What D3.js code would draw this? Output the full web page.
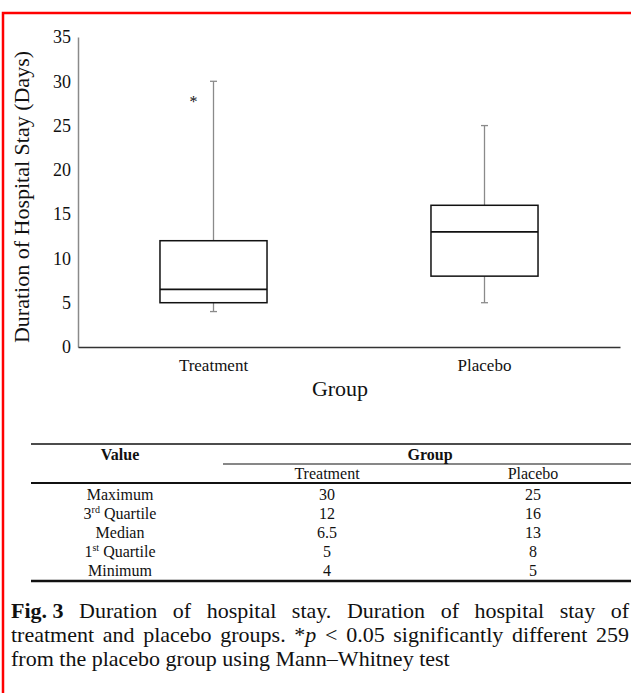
<!DOCTYPE html>
<html>
<head>
<meta charset="utf-8">
<script src="https://cdn.jsdelivr.net/npm/d3@7"></script>
<style>
  html, body { margin: 0; padding: 0; background: #fff; }
  svg { display: block; }
  text { font-family: "Liberation Serif", "Times New Roman", serif; fill: #111; }
</style>
</head>
<body>
<svg id="chart" width="631" height="693"></svg>
<script>
// ---------- data ----------
const groups = ["Treatment", "Placebo"];
const maxima = [30, 25];
const q3s = [12, 16];
const medians = [6.5, 13];
const q1s = [5, 8];
const minima = [4, 5];
const outlierGroups = ["Treatment"];
const outlierValues = [28];
const yTicks = [0, 5, 10, 15, 20, 25, 30, 35];
const rowLabels = [["Maximum"], ["3", "rd", " Quartile"], ["Median"], ["1", "st", " Quartile"], ["Minimum"]];
const yTitle = "Duration of Hospital Stay (Days)";
const xTitle = "Group";
const captionLine1 = [[["Fig. 3", "b"]], [["Duration", ""]], [["of", ""]], [["hospital", ""]], [["stay.", ""]], [["Duration", ""]], [["of", ""]], [["hospital", ""]], [["stay", ""]], [["of", ""]]];
const captionLine2 = [[["treatment", ""]], [["and", ""]], [["placebo", ""]], [["groups.", ""]], [["*", ""], ["p", "i"]], [["<", ""]], [["0.05", ""]], [["significantly", ""]], [["different", ""]], [["259", ""]]];
const captionLine3 = "from the placebo group using Mann–Whitney test";

// ---------- layout ----------
const SERIF = '"Liberation Serif", "Times New Roman", serif';
const svg = d3.select("#chart");
const W = 631, H = 693;

// red frame
svg.append("path")
  .attr("d", `M3,${H} L3,13 L${W},13`)
  .attr("fill", "none").attr("stroke", "#ff0000").attr("stroke-width", 2.5);

const y = d3.scaleLinear().domain([0, 35]).range([347, 37]);
const x = d3.scaleBand().domain(groups).range([78, 620]).paddingInner(0).paddingOuter(0);
const boxW = x.bandwidth() * 0.395;
const capW = 7;

// y axis
const yAxis = svg.append("g").attr("transform", "translate(78,0)")
  .call(d3.axisLeft(y).tickValues(yTicks).tickSize(0).tickPadding(7).tickFormat(d3.format("d")));
yAxis.attr("font-family", SERIF).attr("font-size", 18);
yAxis.select(".domain").attr("stroke", "#8a8a8a").attr("stroke-width", 1.5);
yAxis.selectAll("text").style("font-family", SERIF).style("font-size", "18px").attr("fill", "#222");

// x axis
const xAxis = svg.append("g").attr("transform", "translate(0,347)")
  .call(d3.axisBottom(x).tickSize(0).tickPadding(12));
xAxis.attr("font-family", SERIF).attr("font-size", 17);
xAxis.select(".domain").attr("stroke", "#333").attr("stroke-width", 1.3);
xAxis.selectAll("text").style("font-family", SERIF).style("font-size", "17px").attr("fill", "#222");

// axis titles
svg.append("text").attr("x", 340).attr("y", 396).attr("text-anchor", "middle")
  .style("font-size", "22px").text(xTitle);
svg.append("text").attr("transform", `translate(29,197) rotate(-90)`).attr("text-anchor", "middle")
  .style("font-size", "22px").text(yTitle);

// boxes
const boxes = groups.map((g, i) => ({ g, max: maxima[i], q3: q3s[i], med: medians[i], q1: q1s[i], min: minima[i] }));
const bg = svg.append("g").selectAll("g").data(boxes).join("g");
const cx = d => x(d.g) + x.bandwidth() / 2;
const wc = "#8a8a8a";
bg.append("line").attr("x1", cx).attr("x2", cx).attr("y1", d => y(d.max)).attr("y2", d => y(d.q3))
  .attr("stroke", wc).attr("stroke-width", 1.3);
bg.append("line").attr("x1", cx).attr("x2", cx).attr("y1", d => y(d.q1)).attr("y2", d => y(d.min))
  .attr("stroke", wc).attr("stroke-width", 1.3);
bg.append("line").attr("x1", d => cx(d) - capW / 2).attr("x2", d => cx(d) + capW / 2)
  .attr("y1", d => y(d.max)).attr("y2", d => y(d.max)).attr("stroke", wc).attr("stroke-width", 1.3);
bg.append("line").attr("x1", d => cx(d) - capW / 2).attr("x2", d => cx(d) + capW / 2)
  .attr("y1", d => y(d.min)).attr("y2", d => y(d.min)).attr("stroke", wc).attr("stroke-width", 1.3);
bg.append("rect").attr("x", d => cx(d) - boxW / 2).attr("width", boxW)
  .attr("y", d => y(d.q3)).attr("height", d => y(d.q1) - y(d.q3))
  .attr("fill", "#fff").attr("stroke", "#111").attr("stroke-width", 1.5);
bg.append("line").attr("x1", d => cx(d) - boxW / 2).attr("x2", d => cx(d) + boxW / 2)
  .attr("y1", d => y(d.med)).attr("y2", d => y(d.med)).attr("stroke", "#111").attr("stroke-width", 1.7);

// outliers
svg.append("g").selectAll("text").data(outlierGroups.map((g, i) => ({ g, v: outlierValues[i] }))).join("text")
  .attr("x", d => cx(d) - 20).attr("y", d => y(d.v) + 8).attr("text-anchor", "middle")
  .style("font-size", "16px").attr("fill", "#333").text("*");

// ---------- table ----------
const tL = 31, tR = 631;
const colLabel = 120, colT = 327, colP = 533;
const tbl = svg.append("g");
tbl.append("line").attr("x1", tL).attr("x2", tR).attr("y1", 444).attr("y2", 444).attr("stroke", "#111").attr("stroke-width", 1.5);
tbl.append("line").attr("x1", 223).attr("x2", tR).attr("y1", 464).attr("y2", 464).attr("stroke", "#111").attr("stroke-width", 1.2);
tbl.append("line").attr("x1", tL).attr("x2", tR).attr("y1", 483).attr("y2", 483).attr("stroke", "#111").attr("stroke-width", 2);
tbl.append("line").attr("x1", tL).attr("x2", tR).attr("y1", 581).attr("y2", 581).attr("stroke", "#111").attr("stroke-width", 2.5);

tbl.append("text").attr("x", colLabel).attr("y", 460).attr("text-anchor", "middle")
  .style("font-size", "16px").style("font-weight", "bold").text("Value");
tbl.append("text").attr("x", 430).attr("y", 460).attr("text-anchor", "middle")
  .style("font-size", "16px").style("font-weight", "bold").text("Group");
tbl.append("text").attr("x", colT).attr("y", 479).attr("text-anchor", "middle").style("font-size", "16px").text(groups[0]);
tbl.append("text").attr("x", colP).attr("y", 479).attr("text-anchor", "middle").style("font-size", "16px").text(groups[1]);

const rowY = d3.scalePoint().domain(d3.range(rowLabels.length)).range([500, 576]);
const tValues = [maxima[0], q3s[0], medians[0], q1s[0], minima[0]];
const pValues = [maxima[1], q3s[1], medians[1], q1s[1], minima[1]];
rowLabels.forEach((lab, i) => {
  const t = tbl.append("text").attr("x", colLabel).attr("y", rowY(i)).attr("text-anchor", "middle").style("font-size", "16px");
  if (lab.length === 3) {
    t.append("tspan").text(lab[0]);
    t.append("tspan").attr("dy", -6).style("font-size", "10px").text(lab[1]);
    t.append("tspan").attr("dy", 6).text(lab[2]);
  } else {
    t.text(lab[0]);
  }
  tbl.append("text").attr("x", colT).attr("y", rowY(i)).attr("text-anchor", "middle").style("font-size", "16px").text(tValues[i]);
  tbl.append("text").attr("x", colP).attr("y", rowY(i)).attr("text-anchor", "middle").style("font-size", "16px").text(pValues[i]);
});

// ---------- caption ----------
const capSize = 22;
const capLeft = 11, capRight = 629;
function styleSeg(sel, st) {
  if (st === "b") sel.style("font-weight", "bold");
  if (st === "i") sel.style("font-style", "italic");
}
function justifiedLine(words, yy) {
  const g = svg.append("g");
  const widths = words.map(w => {
    const t = g.append("text").style("font-size", capSize + "px");
    w.forEach(([s, st]) => styleSeg(t.append("tspan").text(s), st));
    const wd = t.node().getComputedTextLength();
    t.remove();
    return wd;
  });
  const total = d3.sum(widths);
  const gap = Math.max(4, (capRight - capLeft - total) / (words.length - 1));
  let cur = capLeft;
  words.forEach((w, i) => {
    const t = g.append("text").attr("x", cur).attr("y", yy).style("font-size", capSize + "px");
    w.forEach(([s, st]) => styleSeg(t.append("tspan").text(s), st));
    cur += widths[i] + gap;
  });
}
justifiedLine(captionLine1, 618);
justifiedLine(captionLine2, 642);
svg.append("text").attr("x", capLeft).attr("y", 666).style("font-size", capSize + "px").text(captionLine3);
</script>
</body>
</html>
